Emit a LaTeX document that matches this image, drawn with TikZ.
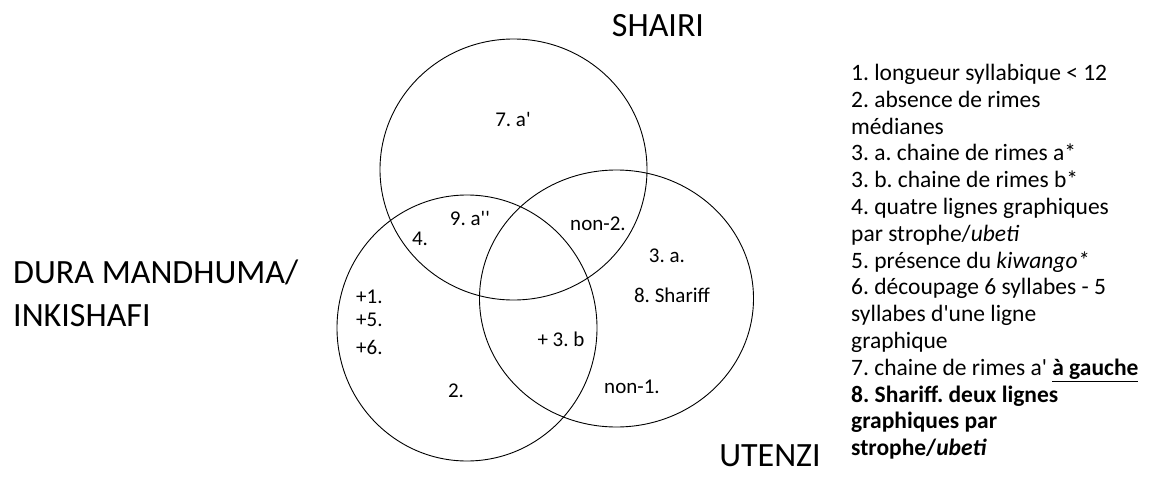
\documentclass[tikz,border=0pt]{standalone}
\usepackage{fontspec}
\setmainfont{Carlito}[Ligatures=TeXOff]
\usepackage{tikz}
\usetikzlibrary{shapes.geometric}
\frenchspacing

\begin{document}
\begin{tikzpicture}[
  x=1pt, y=-1pt,
  set/.style={draw, ellipse, line width=0.9pt, inner sep=0pt},
  title/.style={font=\fontsize{34}{43}\selectfont, inner sep=0pt},
  zone/.style={font=\fontsize{21}{26}\selectfont, inner sep=0pt},
  legend/.style={font=\fontsize{23.5}{26.8}\selectfont, align=left, inner sep=0pt}
]
  \useasboundingbox (0,0) rectangle (1149,477);
  % the three sets
  \node[set, minimum width=267pt, minimum height=261pt] (shairi) at (513.5,169.5) {};
  \node[set, minimum width=260pt, minimum height=266pt] (dura)   at (467,328) {};
  \node[set, minimum width=274pt, minimum height=257pt] (utenzi) at (616.5,298.5) {};
  % set names
  \node[title] (tShairi) at (658,26) {SHAIRI};
  \node[title, anchor=west, align=left] (tDura) at (13,293) {DURA MANDHUMA/\\INKISHAFI};
  \node[title] (tUtenzi) at (770,456) {UTENZI};
  % zone contents
  \node[zone] (z7)    at (513,119) {7. a'};
  \node[zone] (z9)    at (470,218) {9. a''};
  \node[zone] (z4)    at (420,239) {4.};
  \node[zone] (zn2)   at (598,224) {non-2.};
  \node[zone] (z3a)   at (667,256) {3. a.};
  \node[zone] (z8)    at (672,295) {8. Shariff};
  \node[zone, anchor=west] (zp1) at (356,297) {+1.};
  \node[zone, anchor=west] (zp5) at (356,320) {+5.};
  \node[zone, anchor=west] (zp6) at (356,347) {+6.};
  \node[zone] (z3b)   at (561,339) {+ 3. b};
  \node[zone] (z2)    at (456,391) {2.};
  \node[zone] (zn1)   at (632,387) {non-1.};
  % key
  \node[legend, anchor=north west] (key) at (851,64) {1. longueur syllabique < 12\\
    2. absence de rimes\\
    médianes\\
    3. a. chaine de rimes a*\\
    3. b. chaine de rimes b*\\
    4. quatre lignes graphiques\\
    par strophe/\textit{ubeti}\\
    5. présence du \textit{kiwango*}\\
    6. découpage 6 syllabes - 5\\
    syllabes d'une ligne\\
    graphique\\
    7. chaine de rimes a' \underline{\textbf{à gauche}}\\
    \textbf{8. Shariff. deux lignes}\\
    \textbf{graphiques par}\\
    \textbf{strophe/\textit{ubeti}}};
\end{tikzpicture}
\end{document}
